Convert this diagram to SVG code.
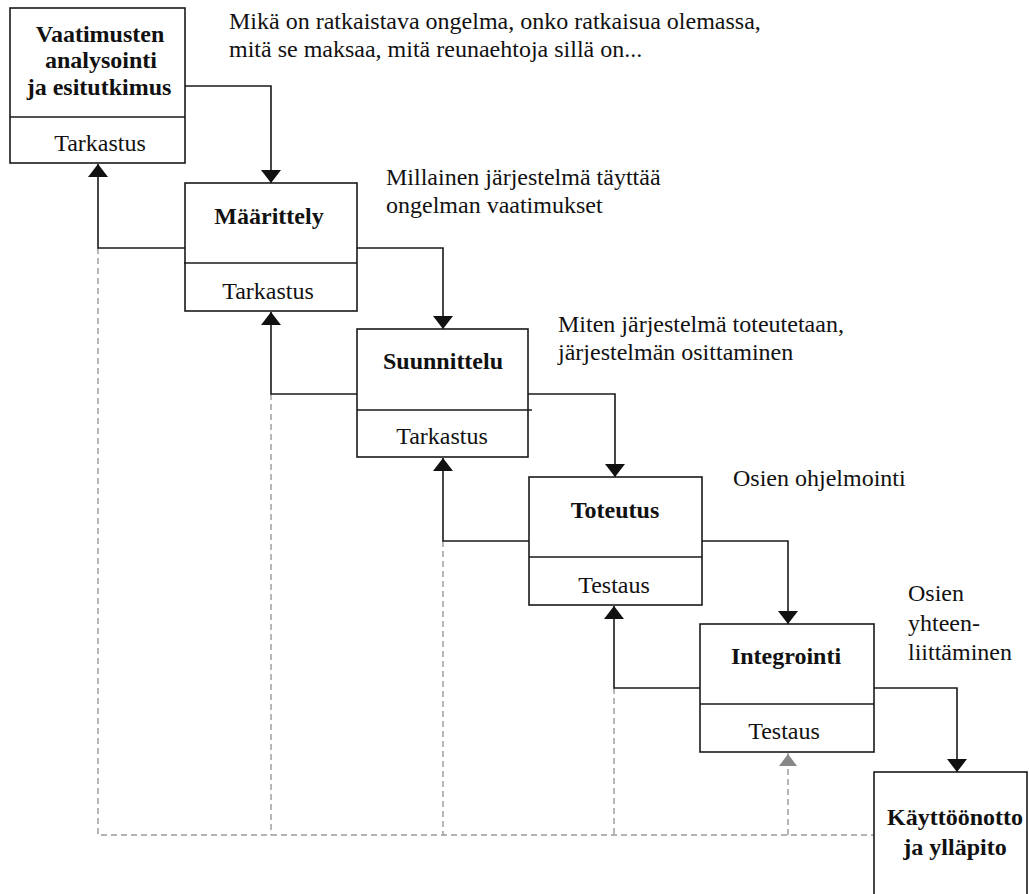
<svg xmlns="http://www.w3.org/2000/svg" width="1029" height="894" viewBox="0 0 1029 894">
  <style>
    .box { fill: #ffffff; stroke: #1a1a1a; stroke-width: 1.6; }
    .div { stroke: #1a1a1a; stroke-width: 1.6; fill: none; }
    .title { font-family: "Liberation Serif", "Times New Roman", serif; font-size: 24px; font-weight: bold; fill: #111; text-anchor: middle; }
    .sub { font-family: "Liberation Serif", "Times New Roman", serif; font-size: 24px; fill: #111; text-anchor: middle; }
    .note { font-family: "Liberation Serif", "Times New Roman", serif; font-size: 24px; fill: #111; }
    .flow { fill: none; stroke: #1a1a1a; stroke-width: 1.6; }
    .back { fill: none; stroke: #1a1a1a; stroke-width: 1.6; }
    .dash { fill: none; stroke: #999999; stroke-width: 1.4; stroke-dasharray: 6 4; }
  </style>
  <defs>
    <marker id="arrow" markerUnits="userSpaceOnUse" markerWidth="14" markerHeight="20" viewBox="0 0 14 20" refX="13" refY="10" orient="auto">
      <path d="M0,0 L13,10 L0,20 z" fill="#111"/>
    </marker>
    <marker id="arrowGray" markerUnits="userSpaceOnUse" markerWidth="14" markerHeight="20" viewBox="0 0 14 20" refX="13" refY="10" orient="auto">
      <path d="M0,1 L12,10 L0,19 z" fill="#888888"/>
    </marker>
  </defs>

  <!-- annotations beside each phase -->
  <g id="notes">
    <text class="note" x="229" y="29">Mikä on ratkaistava ongelma, onko ratkaisua olemassa,</text>
    <text class="note" x="229" y="57">mitä se maksaa, mitä reunaehtoja sillä on...</text>
    <text class="note" x="386" y="185">Millainen järjestelmä täyttää</text>
    <text class="note" x="386" y="213">ongelman vaatimukset</text>
    <text class="note" x="558" y="332">Miten järjestelmä toteutetaan,</text>
    <text class="note" x="558" y="360">järjestelmän osittaminen</text>
    <text class="note" x="733" y="486">Osien ohjelmointi</text>
    <text class="note" x="908" y="601">Osien</text>
    <text class="note" x="908" y="631">yhteen-</text>
    <text class="note" x="908" y="660">liittäminen</text>
  </g>

  <!-- connectors: forward flow, feedback and long-range dashed returns -->
  <g id="connectors">
    <path class="dash" d="M98,248 V835 H874"/>
    <path class="dash" d="M271,394 V835"/>
    <path class="dash" d="M443,541 V835"/>
    <path class="dash" d="M614,688 V835"/>
    <path class="dash" d="M788,835 V753" marker-end="url(#arrowGray)"/>

    <path class="flow" d="M185,86 H271 V183" marker-end="url(#arrow)"/>
    <path class="flow" d="M357,248 H443 V329" marker-end="url(#arrow)"/>
    <path class="flow" d="M528,394 H615 V477" marker-end="url(#arrow)"/>
    <path class="flow" d="M702,541 H788 V624" marker-end="url(#arrow)"/>
    <path class="flow" d="M874,688 H957 V772" marker-end="url(#arrow)"/>

    <path class="back" d="M185,248 H98 V164" marker-end="url(#arrow)"/>
    <path class="back" d="M357,394 H271 V312" marker-end="url(#arrow)"/>
    <path class="back" d="M529,541 H443 V458" marker-end="url(#arrow)"/>
    <path class="back" d="M700,688 H614 V606" marker-end="url(#arrow)"/>
  </g>

  <g id="vaatimukset">
    <rect class="box" x="10" y="8" width="175" height="155"/>
    <line class="div" x1="10" y1="117" x2="185" y2="117"/>
    <text class="title" x="100" y="42">Vaatimusten</text>
    <text class="title" x="101" y="68">analysointi</text>
    <text class="title" x="99" y="95">ja esitutkimus</text>
    <text class="sub" x="100" y="151">Tarkastus</text>
  </g>

  <g id="maarittely">
    <rect class="box" x="185" y="183" width="172" height="128"/>
    <line class="div" x1="184" y1="263" x2="357" y2="263"/>
    <text class="title" x="269" y="224">Määrittely</text>
    <text class="sub" x="268" y="299">Tarkastus</text>
  </g>

  <g id="suunnittelu">
    <rect class="box" x="357" y="329" width="171" height="128"/>
    <line class="div" x1="357" y1="410" x2="532" y2="410"/>
    <text class="title" x="443" y="369">Suunnittelu</text>
    <text class="sub" x="442" y="444">Tarkastus</text>
  </g>

  <g id="toteutus">
    <rect class="box" x="529" y="477" width="173" height="128"/>
    <line class="div" x1="529" y1="557" x2="702" y2="557"/>
    <text class="title" x="615" y="518">Toteutus</text>
    <text class="sub" x="614" y="593">Testaus</text>
  </g>

  <g id="integrointi">
    <rect class="box" x="700" y="624" width="174" height="128"/>
    <line class="div" x1="700" y1="704" x2="874" y2="704"/>
    <text class="title" x="786" y="664">Integrointi</text>
    <text class="sub" x="784" y="739">Testaus</text>
  </g>

  <g id="kayttoonotto">
    <rect class="box" x="874" y="772" width="153" height="140"/>
    <text class="title" x="955" y="825">Käyttöönotto</text>
    <text class="title" x="955" y="855">ja ylläpito</text>
  </g>
</svg>
